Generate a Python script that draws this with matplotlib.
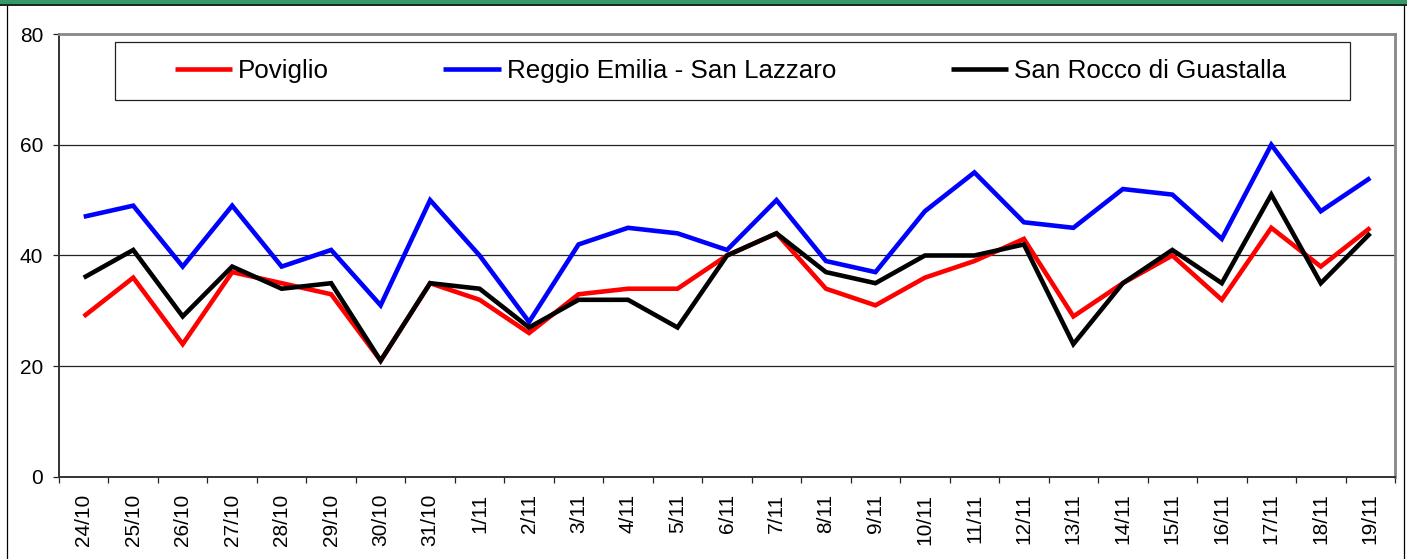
import numpy as np
import matplotlib
matplotlib.use("Agg")
import matplotlib.pyplot as plt
from matplotlib.patches import Rectangle
from matplotlib.lines import Line2D

plt.rcParams['font.family'] = ['Liberation Sans', 'DejaVu Sans']

dates = ["24/10", "25/10", "26/10", "27/10", "28/10", "29/10", "30/10", "31/10",
         "1/11", "2/11", "3/11", "4/11", "5/11", "6/11", "7/11", "8/11", "9/11",
         "10/11", "11/11", "12/11", "13/11", "14/11", "15/11", "16/11", "17/11",
         "18/11", "19/11"]
poviglio = [29, 36, 24, 37, 35, 33, 21, 35, 32, 26, 33, 34, 34, 40, 44, 34, 31,
            36, 39, 43, 29, 35, 40, 32, 45, 38, 45]
reggio = [47, 49, 38, 49, 38, 41, 31, 50, 40, 28, 42, 45, 44, 41, 50, 39, 37,
          48, 55, 46, 45, 52, 51, 43, 60, 48, 54]
san_rocco = [36, 41, 29, 38, 34, 35, 21, 35, 34, 27, 32, 32, 27, 40, 44, 37, 35,
             40, 40, 42, 24, 35, 41, 35, 51, 35, 44]
series_names = ["Poviglio", "Reggio Emilia - San Lazzaro", "San Rocco di Guastalla"]
series_colors = ["#FF0000", "#0000FF", "#000000"]
yticks = [0, 20, 40, 60, 80]

W, H = 1407, 559
fig = plt.figure(figsize=(W / 100, H / 100), dpi=100)
fig.patch.set_facecolor("white")

# banner + outer frame
fig.add_artist(Rectangle((0, 1 - 4.6 / H), 1, 4.6 / H, transform=fig.transFigure,
                         facecolor="#339966", edgecolor="none", zorder=0))
fig.add_artist(Rectangle((0, 1 - 6.3 / H), 1, 1.8 / H, transform=fig.transFigure,
                         facecolor="#1c2b22", edgecolor="none", zorder=0))
fig.add_artist(Line2D([6.5 / W, 6.5 / W], [0, 1 - 6.3 / H], transform=fig.transFigure,
                      color="black", lw=0.9))
fig.add_artist(Line2D([1404 / W, 1404 / W], [0, 1 - 6.3 / H], transform=fig.transFigure,
                      color="black", lw=0.9))

L, R, T, B = 59, 1395, 34, 477
ax = fig.add_axes([L / W, 1 - B / H, (R - L) / W, (B - T) / H])

x = np.arange(len(dates))
for vals, name, col in zip([poviglio, reggio, san_rocco], series_names, series_colors):
    ax.plot(x, vals, color=col, lw=3.3, label=name, solid_joinstyle="miter",
            solid_capstyle="butt", zorder=3)

ax.set_xlim(-0.5, len(dates) - 0.5)
ax.set_ylim(0, 80)
ax.set_yticks(yticks)
ax.set_yticklabels([str(v) for v in yticks], fontsize=15)
for v in yticks[1:-1]:
    ax.axhline(v, color="#222222", lw=0.9, zorder=1)

ax.set_xticks(np.arange(-0.5, len(dates), 1))
ax.set_xticklabels([])
ax.set_xticks(x, minor=True)
ax.set_xticklabels(dates, minor=True, rotation=90, fontsize=15)
ax.tick_params(axis="x", which="major", direction="out", length=4.5, width=0.9, color="#222222")
ax.tick_params(axis="x", which="minor", length=0, pad=12)
ax.tick_params(axis="y", direction="out", length=4.5, width=0.9, color="#222222", pad=7)

for s in ["top", "right"]:
    ax.spines[s].set_color("#888888")
    ax.spines[s].set_linewidth(2.0)
for s in ["left", "bottom"]:
    ax.spines[s].set_color("#333333")
    ax.spines[s].set_linewidth(1.4)

# legend frame
lx0, lx1, ly0, ly1 = 115, 1350, 42, 100
fig.add_artist(Rectangle((lx0 / W, 1 - ly1 / H), (lx1 - lx0) / W, (ly1 - ly0) / H,
                         transform=fig.transFigure, facecolor="white",
                         edgecolor="#222222", lw=0.9, zorder=4))
leg = fig.legend(loc="center", bbox_to_anchor=((lx0 + lx1) / 2 / W - 2 / W, 1 - (ly0 + ly1) / 2 / H),
                 ncol=3, frameon=False, fontsize=18.7, handlelength=2.2,
                 handletextpad=0.25, columnspacing=4.4, borderpad=0)
leg.set_zorder(5)

fig.savefig("out.png", dpi=100)
